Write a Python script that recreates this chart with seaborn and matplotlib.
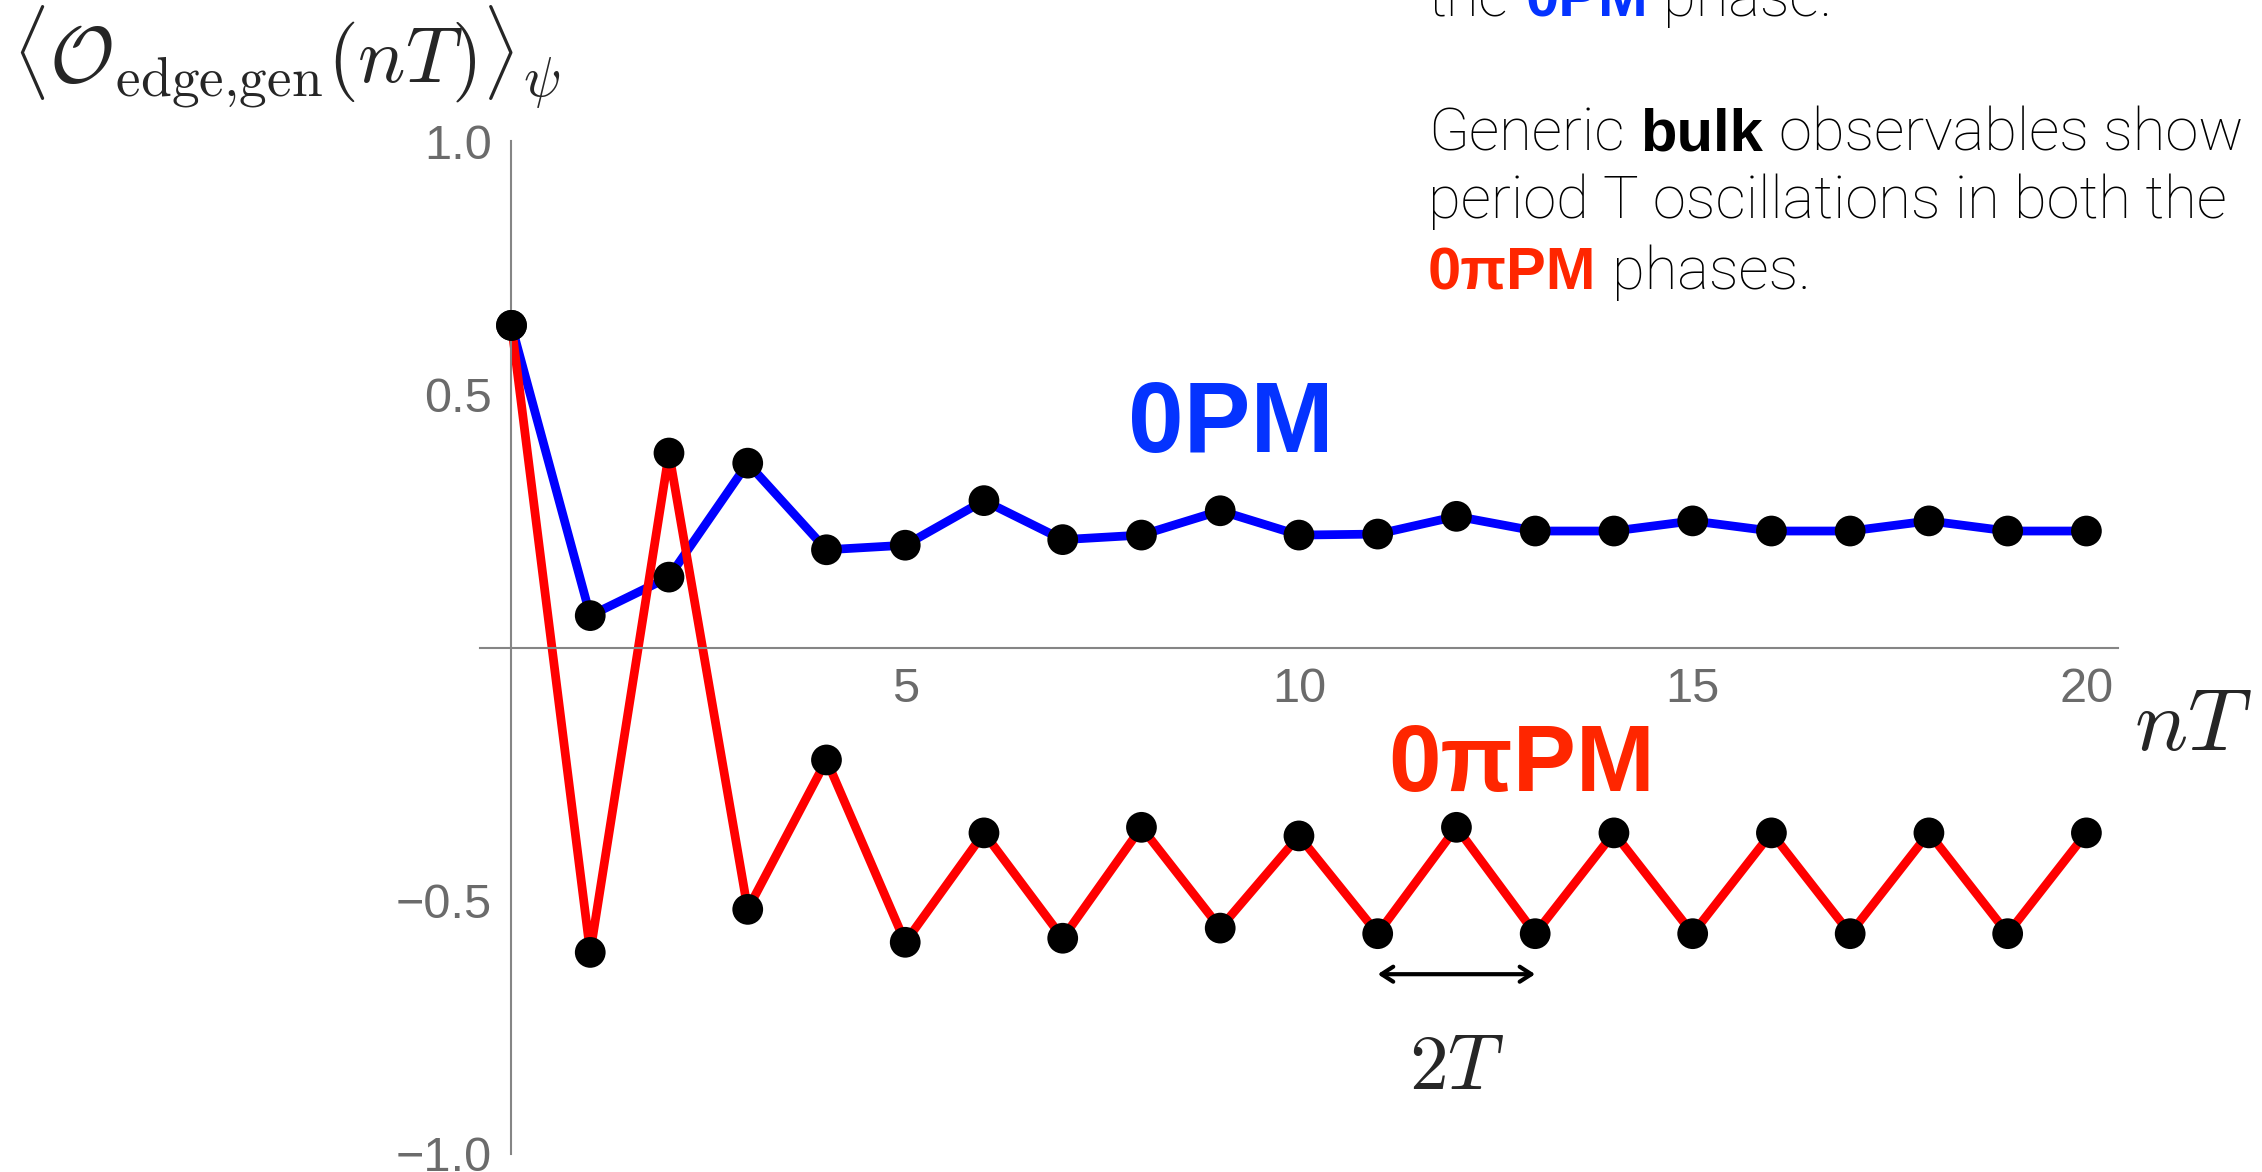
# plot.py - edge observable stroboscopic dynamics, 0PM vs 0piPM
import numpy as np
import pandas as pd
import matplotlib
matplotlib.use("Agg")
import matplotlib.pyplot as plt
import seaborn as sns

# ------------------------------
# data
# ------------------------------
n_steps = list(range(21))
edge_0pm = [0.636, 0.063, 0.139, 0.364, 0.193, 0.202, 0.290, 0.213, 0.222, 0.270,
            0.222, 0.224, 0.259, 0.230, 0.230, 0.250, 0.230, 0.230, 0.250, 0.230, 0.230]
edge_0pipm = [0.636, -0.602, 0.384, -0.517, -0.222, -0.582, -0.366, -0.574, -0.355, -0.554,
              -0.372, -0.565, -0.355, -0.565, -0.366, -0.565, -0.366, -0.565, -0.366, -0.565, -0.366]
phase_names = ["0PM", "0πPM"]
x_major = [5, 10, 15, 20]
y_major = [-1.0, -0.5, 0.5, 1.0]

df = pd.DataFrame({
    "n": n_steps * 2,
    "value": edge_0pm + edge_0pipm,
    "phase": [phase_names[0]] * len(n_steps) + [phase_names[1]] * len(n_steps),
})

# ------------------------------
# style
# ------------------------------
sns.set_theme(style="white")
plt.rcParams["font.family"] = ["Liberation Sans", "DejaVu Sans"]
plt.rcParams["mathtext.fontset"] = "cm"

BLUE_TXT = "#0433ff"
RED_TXT = "#ff2600"
GRAY = "#858585"
BOLD = ["Liberation Sans Narrow", "Liberation Sans", "DejaVu Sans"]
BODY = ["Roboto", "DejaVu Sans"]

fig = plt.figure(figsize=(22.62, 11.72), dpi=100)
ax = fig.add_axes([0.2122, 0.01536, 0.7241, 0.8643])

sns.lineplot(data=df, x="n", y="value", hue="phase", sort=False, legend=False,
             palette={phase_names[0]: "#0000ff", phase_names[1]: "#ff0000"},
             lw=6.3, ax=ax, clip_on=False)
sns.scatterplot(data=df, x="n", y="value", color="black", s=490, edgecolor="none",
                legend=False, ax=ax, zorder=5, clip_on=False)

# Mathematica-like axes through the origin
ax.set_xlim(-0.4, 20.4)
ax.set_ylim(-1.0, 1.0)
for side in ["top", "right"]:
    ax.spines[side].set_visible(False)
ax.spines["left"].set_position(("data", 0))
ax.spines["bottom"].set_position(("data", 0))
for side in ["left", "bottom"]:
    ax.spines[side].set_color(GRAY)
    ax.spines[side].set_linewidth(1.5)

ax.set_xticks(x_major)
ax.set_xticks(range(1, 21), minor=True)
ax.set_yticks(y_major)
ax.set_yticks(np.round(np.arange(-1.0, 1.01, 0.1), 2), minor=True)
ax.set_xticklabels([str(v) for v in x_major])
ax.set_yticklabels([f"{v:.1f}".replace("-", "\u2212") for v in y_major])
ax.tick_params(which="both", direction="in", color=GRAY, width=1.4,
               labelcolor="#6b6b6b", labelsize=35)
ax.tick_params(which="major", length=14)
ax.tick_params(which="minor", length=8.5)
ax.tick_params(axis="x", which="major", pad=14)
ax.tick_params(axis="y", which="major", pad=14)
ax.set_xlabel("")
ax.set_ylabel("")

# labels on the plot
ax.text(7.83, 0.387, phase_names[0], color=BLUE_TXT, fontsize=72, weight="bold",
        family=BOLD, va="baseline", ha="left")
ax.text(11.13, -0.284, phase_names[1], color=RED_TXT, fontsize=68, weight="bold",
        family=BOLD, va="baseline", ha="left")
ax.text(20.60, -0.203, r"$nT$", fontsize=64, va="baseline", ha="left")
fig.text(0.0055, 0.929, r"$\langle\mathcal{O}_{\mathrm{edge{,}gen}}(nT)\rangle_{\psi}$",
         fontsize=57, va="baseline", ha="left")

# period-2T marker
ax.annotate("", xy=(n_steps[11], -0.645), xytext=(n_steps[13], -0.645),
            arrowprops=dict(arrowstyle="<->,head_length=0.7,head_width=0.45",
                            color="black", lw=3, shrinkA=0, shrinkB=0))
ax.text(12, -0.872, r"$2T$", fontsize=56, va="baseline", ha="center")


# ------------------------------
# explanatory text with mixed colours
# ------------------------------
def write_line(x, y, pieces, size=43):
    renderer = fig.canvas.get_renderer()
    gap = 0.26 * size * fig.dpi / 72 / fig.bbox.width
    for text, color, bold in pieces:
        if bold:
            t = fig.text(x, y, text, color=color, fontsize=size, weight="bold",
                         family=BOLD, va="baseline", ha="left")
        else:
            t = fig.text(x, y, text, color=color, fontsize=size, weight="light",
                         family=BODY, va="baseline", ha="left")
        bb = t.get_window_extent(renderer)
        x += bb.width / fig.bbox.width + gap


x0 = 0.6313
write_line(x0, 0.9863, [("the", "black", False), ("0PM", BLUE_TXT, True), ("phase.", "black", False)])
write_line(x0, 0.8712, [("Generic", "black", False), ("bulk", "black", True),
                        ("observables show", "black", False)])
write_line(x0, 0.8140, [("period T oscillations in both the", "black", False)])
write_line(x0, 0.7534, [("0πPM", RED_TXT, True), ("phases.", "black", False)])

fig.savefig("out.png", dpi=100)
